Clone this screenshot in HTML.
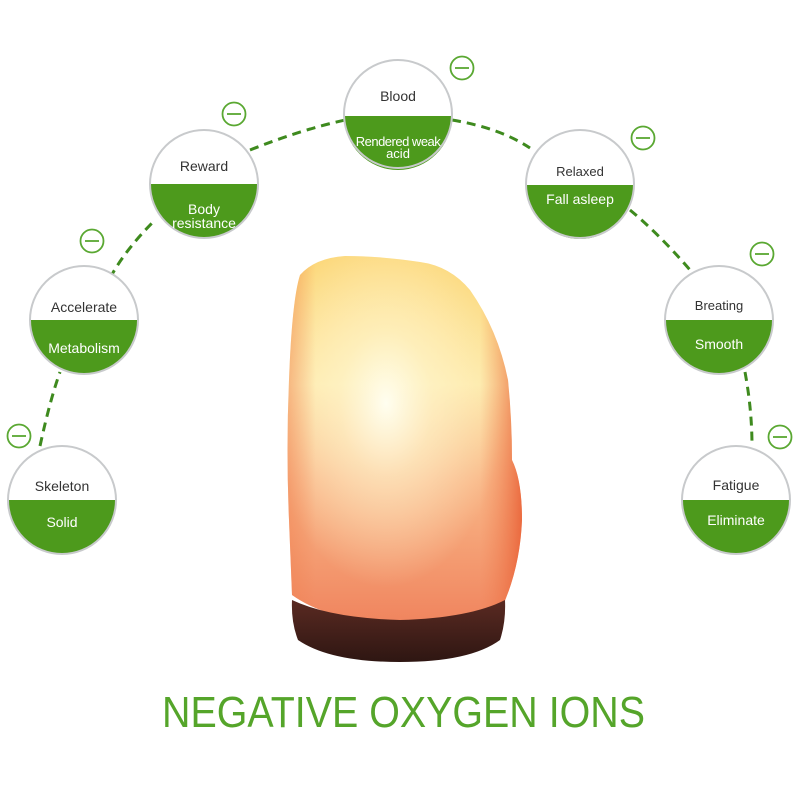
<!DOCTYPE html>
<html><head><meta charset="utf-8"><style>
html,body{margin:0;padding:0;background:#fff;}
svg{display:block;}
text{font-family:"Liberation Sans",sans-serif;}
</style></head><body>
<svg width="800" height="800" viewBox="0 0 800 800" xmlns="http://www.w3.org/2000/svg">
<defs>
<linearGradient id="rockL" x1="0" y1="0" x2="0" y2="1">
<stop offset="0" stop-color="#fcd676"/>
<stop offset="0.35" stop-color="#fde9a8"/>
<stop offset="0.6" stop-color="#f9b888"/>
<stop offset="1" stop-color="#f0845e"/>
</linearGradient>
<radialGradient id="glow" cx="0.42" cy="0.4" r="0.5">
<stop offset="0" stop-color="#fffef0" stop-opacity="1"/>
<stop offset="0.4" stop-color="#fff6d0" stop-opacity="0.6"/>
<stop offset="1" stop-color="#fff6d0" stop-opacity="0"/>
</radialGradient>
<linearGradient id="edge" x1="0" y1="0" x2="1" y2="0">
<stop offset="0" stop-color="#f08050" stop-opacity="0.5"/>
<stop offset="0.12" stop-color="#f08050" stop-opacity="0"/>
<stop offset="0.82" stop-color="#f08050" stop-opacity="0"/>
<stop offset="1" stop-color="#e85a30" stop-opacity="0.8"/>
</linearGradient>
<linearGradient id="base" x1="0" y1="0" x2="0" y2="1">
<stop offset="0" stop-color="#5a2a22"/><stop offset="1" stop-color="#2e1612"/>
</linearGradient>
</defs>
<path d="M40,446 Q50,400 60,372 M110,278 Q125,250 155,220 M250,150 Q300,130 345,120 M452,120 Q500,128 530,148 M630,210 Q660,235 690,270 M745,372 Q752,410 752,446" fill="none" stroke="#3e8a1e" stroke-width="3" stroke-dasharray="9,6"/>
<g>
<path id="rk" d="M292,595 L289,520 Q286,450 289,380 Q292,300 300,275 Q315,258 345,256 Q380,256 420,262 Q450,266 470,290 Q498,330 508,380 Q512,420 512,460 Q522,480 522,520 Q520,570 500,612 Q460,625 400,624 Q330,622 292,595 Z" fill="url(#rockL)"/>
<path d="M292,595 L289,520 Q286,450 289,380 Q292,300 300,275 Q315,258 345,256 Q380,256 420,262 Q450,266 470,290 Q498,330 508,380 Q512,420 512,460 Q522,480 522,520 Q520,570 500,612 Q460,625 400,624 Q330,622 292,595 Z" fill="url(#glow)"/>
<path d="M292,595 L289,520 Q286,450 289,380 Q292,300 300,275 Q315,258 345,256 Q380,256 420,262 Q450,266 470,290 Q498,330 508,380 Q512,420 512,460 Q522,480 522,520 Q520,570 500,612 Q460,625 400,624 Q330,622 292,595 Z" fill="url(#edge)"/>
</g>
<path d="M292,600 Q291,622 298,640 Q330,662 400,662 Q470,662 500,640 Q506,622 505,600 Q470,618 400,620 Q330,618 292,600 Z" fill="url(#base)"/>
<text x="162" y="727" font-size="44" fill="#55a52a" textLength="483" lengthAdjust="spacingAndGlyphs">NEGATIVE OXYGEN IONS</text>
<g font-size="14" text-anchor="middle">
<g transform="translate(62,500)"><circle r="54" fill="#fff"/><path d="M-54,0 A54,54 0 0 0 54,0 Z" fill="#4d9a1c"/><circle r="54" fill="none" stroke="#c8cacc" stroke-width="2"/><text y="-9" fill="#333">Skeleton</text><text y="27" fill="#fff">Solid</text></g>
<g transform="translate(84,320)"><circle r="54" fill="#fff"/><path d="M-54,0 A54,54 0 0 0 54,0 Z" fill="#4d9a1c"/><circle r="54" fill="none" stroke="#c8cacc" stroke-width="2"/><text y="-8" fill="#333">Accelerate</text><text y="33" fill="#fff">Metabolism</text></g>
<g transform="translate(204,184)"><circle r="54" fill="#fff"/><path d="M-54,0 A54,54 0 0 0 54,0 Z" fill="#4d9a1c"/><circle r="54" fill="none" stroke="#c8cacc" stroke-width="2"/><text y="-13" fill="#333">Reward</text><text y="30" fill="#fff">Body</text><text y="44" fill="#fff">resistance</text></g>
<g transform="translate(398,114)"><circle r="54" fill="#fff"/><path d="M-54,2 A54,54 0 0 0 54,2 Z" fill="#4d9a1c"/><circle r="54" fill="none" stroke="#c8cacc" stroke-width="2"/><text y="-13" fill="#333">Blood</text><text y="32" fill="#fff" font-size="13" letter-spacing="-0.5">Rendered weak</text><text y="44" fill="#fff" font-size="13">acid</text></g>
<g transform="translate(580,184)"><circle r="54" fill="#fff"/><path d="M-54,1 A54,54 0 0 0 54,1 Z" fill="#4d9a1c"/><circle r="54" fill="none" stroke="#c8cacc" stroke-width="2"/><text y="-8" fill="#333" font-size="13">Relaxed</text><text y="20" fill="#fff">Fall asleep</text></g>
<g transform="translate(719,320)"><circle r="54" fill="#fff"/><path d="M-54,0 A54,54 0 0 0 54,0 Z" fill="#4d9a1c"/><circle r="54" fill="none" stroke="#c8cacc" stroke-width="2"/><text y="-10" fill="#333" font-size="13">Breating</text><text y="29" fill="#fff">Smooth</text></g>
<g transform="translate(736,500)"><circle r="54" fill="#fff"/><path d="M-54,0 A54,54 0 0 0 54,0 Z" fill="#4d9a1c"/><circle r="54" fill="none" stroke="#c8cacc" stroke-width="2"/><text y="-10" fill="#333">Fatigue</text><text y="25" fill="#fff">Eliminate</text></g>
</g>
<g fill="#fff" stroke="#5aa832" stroke-width="1.8">
<circle cx="19" cy="436" r="11.5"/><line x1="12" y1="436" x2="26" y2="436"/>
<circle cx="92" cy="241" r="11.5"/><line x1="85" y1="241" x2="99" y2="241"/>
<circle cx="234" cy="114" r="11.5"/><line x1="227" y1="114" x2="241" y2="114"/>
<circle cx="462" cy="68" r="11.5"/><line x1="455" y1="68" x2="469" y2="68"/>
<circle cx="643" cy="138" r="11.5"/><line x1="636" y1="138" x2="650" y2="138"/>
<circle cx="762" cy="254" r="11.5"/><line x1="755" y1="254" x2="769" y2="254"/>
<circle cx="780" cy="437" r="11.5"/><line x1="773" y1="437" x2="787" y2="437"/>
</g>
</svg>
</body></html>
